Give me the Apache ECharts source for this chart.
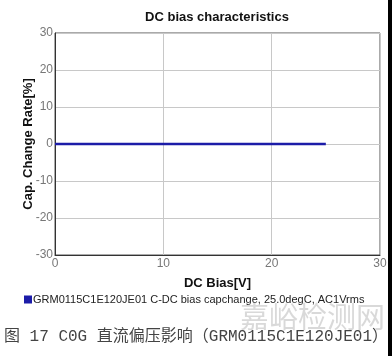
<!DOCTYPE html>
<html>
<head>
<meta charset="utf-8">
<script src="https://cdn.jsdelivr.net/npm/echarts@6/dist/echarts.min.js"></script>
<style>
html,body{margin:0;padding:0;background:#fff;}
#c{width:392px;height:356px;}
</style>
</head>
<body>
<div id="c"></div>
<script>
var seriesName = 'GRM0115C1E120JE01 C-DC bias capchange, 25.0degC, AC1Vrms';
var biasV = [0, 5, 10, 15, 20, 25];
var capChange = [0, 0, 0, 0, 0, 0];
var title = 'DC bias characteristics';
var caption = '图 17 C0G 直流偏压影响（GRM0115C1E120JE01）';
var watermark = '嘉峪检测网';

var chart = echarts.init(document.getElementById('c'), null, {renderer: 'canvas'});
chart.setOption({
  animation: false,
  backgroundColor: '#fff',
  title: {
    text: title, left: 217, top: 11, textAlign: 'center', padding: 0,
    textStyle: {fontFamily: 'Liberation Sans, Arial', fontSize: 13, fontWeight: 'bold', color: '#111'}
  },
  grid: {left: 55, right: 12, top: 33, bottom: 101, show: true, borderColor: '#555', borderWidth: 1},
  legend: {
    left: 24, top: 294, padding: 0, icon: 'rect', itemWidth: 8, itemHeight: 8, itemGap: 2,
    data: [seriesName],
    textStyle: {fontFamily: 'Liberation Sans, Arial', fontSize: 11, color: '#222', padding: [0, 0, 0, -4]}
  },
  xAxis: {
    type: 'value', min: 0, max: 30, interval: 10,
    name: 'DC Bias[V]', nameLocation: 'middle', nameGap: 22,
    nameTextStyle: {fontFamily: 'Liberation Sans, Arial', fontSize: 13, fontWeight: 'bold', color: '#111'},
    axisLine: {onZero: false, lineStyle: {color: '#333'}},
    axisTick: {show: false},
    axisLabel: {fontFamily: 'Liberation Sans, Arial', fontSize: 12, color: '#777', margin: 3},
    splitLine: {lineStyle: {color: '#c8c8c8', width: 1}}
  },
  yAxis: {
    type: 'value', min: -30, max: 30, interval: 10,
    name: 'Cap. Change Rate[%]', nameLocation: 'middle', nameGap: 20, nameMoveOverlap: false,
    nameTextStyle: {fontFamily: 'Liberation Sans, Arial', fontSize: 13, fontWeight: 'bold', color: '#111'},
    axisLine: {onZero: false, lineStyle: {color: '#333'}},
    axisTick: {show: false},
    axisLabel: {fontFamily: 'Liberation Sans, Arial', fontSize: 12, color: '#777', margin: 2},
    splitLine: {lineStyle: {color: '#c8c8c8', width: 1}}
  },
  series: [{
    name: seriesName, type: 'line', showSymbol: false,
    data: biasV.map(function (v, i) { return [v, capChange[i]]; }),
    itemStyle: {color: '#1c1ca8'},
    lineStyle: {color: '#1c1ca8', width: 2.5}
  }],
  graphic: [
    {type: 'text', left: 240, top: 302, z: 1,
     style: {text: watermark, font: '29px "Noto Sans CJK SC"', fill: 'rgba(170,170,170,0.45)'}},
    {type: 'text', left: 4, top: 329, z: 2,
     style: {text: caption, font: '16px "Liberation Mono", "Noto Sans CJK SC"', fill: '#444'}},
    {type: 'rect', right: 0, top: 0, z: 3, shape: {width: 4, height: 356}, style: {fill: '#000'}}
  ]
});
</script>
</body>
</html>
